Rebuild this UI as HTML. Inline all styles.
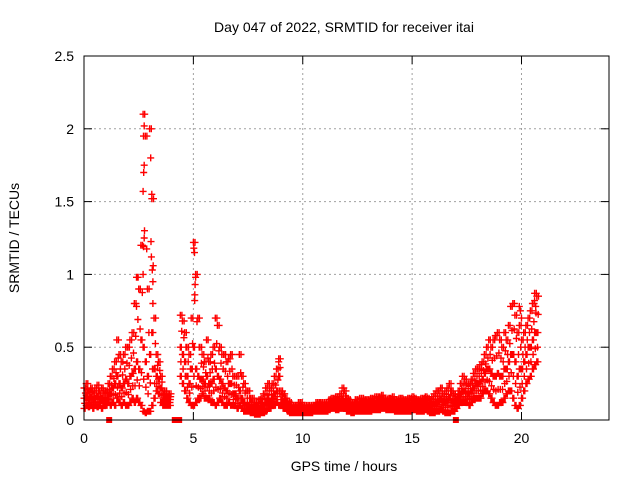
<!DOCTYPE html>
<html><head><meta charset="utf-8"><style>
body{margin:0;background:#fff}
svg{display:block;font-family:"Liberation Sans",sans-serif}
</style></head><body>
<svg id="chart" width="640" height="480" viewBox="0 0 640 480">
<text x="344" y="32" font-size="14" text-anchor="middle">Day 047 of 2022, SRMTID for receiver itai</text>
<g id="grid"></g>
<g id="marks"></g>
<rect x="84" y="56" width="525" height="364" fill="none" stroke="#000" stroke-width="1"/>
<g id="axes"></g>
<text x="344" y="471" font-size="14" text-anchor="middle">GPS time / hours</text>
<text x="19" y="238" font-size="14" text-anchor="middle" transform="rotate(-90 19 238)">SRMTID / TECUs</text>
</svg>
<script>
const xTicks=[0,5,10,15,20];
const yTicks=[0,0.5,1,1.5,2,2.5];
const yTickLabels=["0","0.5","1","1.5","2","2.5"];
const lowVals=[0.08,0.1,0.09,0.1,0.08,0.1,0.09,0.1,0.08,0.1,0.1,0.12,
0.1,0.12,0.1,0.15,0.12,0.1,0.12,0.1,
0.1,0.12,0.15,0.12,0.15,0.12,0.1,0.06,0.05,0.06,
0.06,0.1,0.15,0.2,0.18,0.12,0.1,0.1,0.1,0.1,
null,null,null,null,0.3,0.25,0.2,0.15,0.12,0.1,
0.1,0.12,0.15,0.15,0.18,0.15,0.15,0.15,0.12,0.12,
0.1,0.12,0.15,0.12,0.1,0.1,0.12,0.1,0.1,0.1,
0.08,0.1,0.08,0.06,0.06,0.06,0.05,0.05,0.04,0.04,
0.04,0.05,0.05,0.06,0.08,0.08,0.1,0.1,0.12,0.1,
0.1,0.08,0.08,0.06,0.05,0.05,0.05,0.05,0.05,0.05,
0.05,0.05,0.05,0.05,0.05,0.06,0.06,0.06,0.06,0.06,
0.06,0.06,0.07,0.08,0.08,0.07,0.07,0.08,0.08,0.08,
0.06,0.06,0.05,0.05,0.06,0.06,0.06,0.06,0.06,0.06,
0.06,0.06,0.07,0.07,0.07,0.07,0.08,0.08,0.07,0.07,
0.07,0.07,0.06,0.06,0.06,0.06,0.06,0.06,0.06,0.06,
0.07,0.07,0.06,0.06,0.06,0.06,0.07,0.06,0.05,0.05,
0.05,0.06,0.06,0.07,0.06,0.05,0.05,0.05,0.06,0.06,
0.08,0.1,0.12,0.12,0.12,0.12,0.1,0.12,0.15,0.15,
0.15,0.15,0.18,0.2,0.2,0.18,0.15,0.12,0.1,0.1,
0.12,0.12,0.15,0.18,0.2,0.2,0.15,0.1,0.08,0.1,
0.15,0.2,0.25,0.28,0.3,0.35,0.38,0.4];
const midVals=[0.15,0.17,0.14,0.16,0.14,0.15,0.16,0.14,0.15,0.14,0.14,0.17,
0.18,0.22,0.25,0.3,0.25,0.22,0.25,0.28,
0.25,0.3,0.32,0.35,0.4,0.35,0.55,0.5,0.4,0.3,
0.45,0.6,0.35,0.3,0.28,0.22,0.15,0.15,0.14,0.14,
null,null,null,null,0.5,0.45,0.4,0.3,0.25,0.35,
0.5,0.35,0.3,0.28,0.28,0.25,0.3,0.25,0.25,0.28,
0.35,0.3,0.28,0.25,0.22,0.2,0.25,0.25,0.18,0.18,
0.15,0.2,0.15,0.12,0.1,0.1,0.09,0.09,0.07,0.07,
0.08,0.09,0.1,0.12,0.15,0.13,0.15,0.18,0.2,0.3,
0.14,0.12,0.1,0.09,0.08,0.07,0.07,0.07,0.08,0.08,
0.07,0.07,0.07,0.07,0.07,0.08,0.09,0.09,0.09,0.09,
0.09,0.09,0.1,0.11,0.11,0.11,0.11,0.12,0.14,0.13,
0.1,0.1,0.09,0.09,0.1,0.1,0.1,0.1,0.1,0.1,
0.1,0.1,0.11,0.11,0.11,0.12,0.12,0.11,0.1,0.11,
0.11,0.11,0.1,0.1,0.1,0.1,0.1,0.1,0.1,0.1,
0.11,0.11,0.1,0.1,0.1,0.1,0.11,0.1,0.1,0.1,
0.11,0.12,0.13,0.14,0.12,0.12,0.13,0.15,0.13,0.12,
0.12,0.15,0.18,0.2,0.2,0.18,0.18,0.2,0.22,0.25,
0.25,0.26,0.28,0.32,0.35,0.35,0.32,0.3,0.3,0.32,
0.3,0.3,0.35,0.35,0.4,0.45,0.45,0.4,0.3,0.35,
0.35,0.4,0.45,0.5,0.5,0.55,0.6,0.6];
const highVals=[0.22,0.25,0.2,0.22,0.2,0.22,0.24,0.2,0.22,0.2,0.2,0.25,
0.3,0.35,0.4,0.55,0.45,0.4,0.45,0.5,
0.5,0.55,0.6,0.8,0.98,0.9,1.2,2.1,1.95,0.9,
2.0,1.52,0.7,0.45,0.4,0.3,0.2,0.2,0.18,0.18,
null,null,null,null,0.72,0.68,0.6,0.5,0.45,0.7,
1.22,1.0,0.7,0.5,0.45,0.4,0.55,0.4,0.45,0.5,
0.7,0.65,0.5,0.45,0.45,0.4,0.42,0.45,0.3,0.3,
0.3,0.45,0.3,0.25,0.2,0.2,0.15,0.15,0.12,0.12,
0.14,0.15,0.18,0.22,0.25,0.22,0.25,0.3,0.35,0.42,
0.2,0.18,0.15,0.13,0.12,0.1,0.1,0.1,0.12,0.12,
0.1,0.1,0.1,0.1,0.1,0.1,0.12,0.12,0.12,0.12,
0.12,0.12,0.14,0.15,0.15,0.16,0.16,0.18,0.22,0.2,
0.15,0.14,0.12,0.12,0.14,0.14,0.15,0.15,0.14,0.14,
0.14,0.15,0.15,0.16,0.16,0.16,0.17,0.15,0.14,0.15,
0.15,0.16,0.14,0.14,0.15,0.15,0.14,0.14,0.15,0.15,
0.16,0.15,0.14,0.14,0.15,0.15,0.16,0.15,0.14,0.16,
0.18,0.2,0.2,0.22,0.18,0.2,0.22,0.25,0.2,0.18,
0.16,0.2,0.25,0.3,0.28,0.25,0.25,0.28,0.32,0.35,
0.35,0.38,0.4,0.45,0.5,0.55,0.5,0.55,0.58,0.6,
0.55,0.5,0.6,0.55,0.65,0.78,0.8,0.72,0.6,0.65,
0.55,0.6,0.65,0.7,0.75,0.8,0.87,0.85];
const spikeTimes=[2.75,2.72,2.75,2.73,2.7,2.75,2.72,3.05,3.1,3.08,3.12,3.15,2.4,2.45,5.02,5.05,5.1,5.08,5.06,8.9,8.95,19.9,19.95,20.0,20.6,20.65,20.6,2.7,3.15,3.2];
const spikeVals=[2.02,1.95,1.75,1.7,1.57,1.25,1.19,1.8,1.55,1.12,1.03,0.95,0.78,0.98,1.18,1.15,0.98,0.93,0.82,0.4,0.3,0.78,0.75,0.7,0.82,0.78,0.6,1.0,0.8,0.7];
const zeroTimes=[1.15,4.15,4.35,17.0];

const X0=84,X1=609,Y0=420,Y1=56;
const xs=h=>X0+(h/24)*(X1-X0);
const ys=v=>Y0-(v/2.5)*(Y0-Y1);
const NS="http://www.w3.org/2000/svg";
const grid=document.getElementById('grid'),marks=document.getElementById('marks'),axes=document.getElementById('axes');
function mk(tag,attrs,parent){const e=document.createElementNS(NS,tag);for(const k in attrs)e.setAttribute(k,attrs[k]);parent.appendChild(e);return e;}

yTicks.forEach((v,i)=>{
  const y=ys(v);
  if(v>0&&v<2.5){const g=mk('line',{x1:X0,x2:X1,y1:y,y2:y,stroke:'#a0a0a0','stroke-dasharray':'2,3','stroke-width':1},grid);
  
  }
  mk('line',{x1:X0,x2:X0+8,y1:y,y2:y,stroke:'#000'},axes);
  mk('line',{x1:X1,x2:X1-8,y1:y,y2:y,stroke:'#000'},axes);
  const t=mk('text',{x:X0-10,y:y+5,'font-size':14,'text-anchor':'end'},axes);
  t.textContent=yTickLabels[i];
  
  
});
xTicks.forEach(h=>{
  const x=xs(h);
  if(h>0){const g=mk('line',{x1:x,x2:x,y1:Y0,y2:Y1,stroke:'#a0a0a0','stroke-dasharray':'2,3','stroke-width':1},grid);
  
  }
  mk('line',{x1:x,x2:x,y1:Y0,y2:Y0-8,stroke:'#000'},axes);
  mk('line',{x1:x,x2:x,y1:Y1,y2:Y1+8,stroke:'#000'},axes);
  const t=mk('text',{x:x,y:443,'font-size':14,'text-anchor':'middle'},axes);
  t.textContent=String(h);
  
  
});
let d='';
function plus(h,v){if(v===null||v===undefined||isNaN(v))return;const x=xs(h),y=ys(v);d+=`M${(x-3.5).toFixed(1)} ${y.toFixed(1)}h7M${x.toFixed(1)} ${(y-3.5).toFixed(1)}v7`;}
for(let i=0;i<lowVals.length;i++){
  const t=i/10;
  plus(t,lowVals[i]);plus(t,midVals[i]);plus(t,highVals[i]);
  plus(t+0.05,lowVals[i]);plus(t+0.05,midVals[i]);
  plus(t+0.075,highVals[i]);
  if(midVals[i]!==null){
    plus(t+0.03,(lowVals[i]+midVals[i])/2);
    plus(t+0.065,(midVals[i]+highVals[i])/2);
  }
}
spikeTimes.forEach((t,i)=>plus(t,spikeVals[i]));
const p=mk('path',{d:d,stroke:'#ff0000','stroke-width':1.4,fill:'none'},marks);


zeroTimes.forEach(t=>{
  const r=mk('rect',{x:xs(t)-3,y:Y0-3,width:6,height:6,fill:'#ff0000'},marks);
  
  
});
</script>
</body></html>
